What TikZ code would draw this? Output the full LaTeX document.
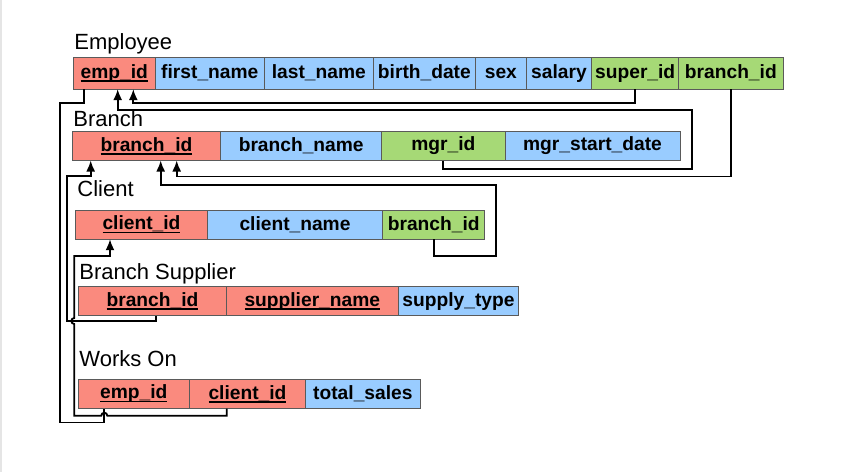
\documentclass[tikz,border=0pt]{standalone}
\usepackage{fontspec}
\setmainfont{Liberation Sans}
\usetikzlibrary{positioning,calc,arrows.meta}
\definecolor{pkred}{RGB}{250,138,126}
\definecolor{attrblue}{RGB}{153,204,255}
\definecolor{fkgreen}{RGB}{166,217,118}
\definecolor{cellline}{RGB}{90,90,90}
\newcommand{\pkey}[1]{\setbox0\hbox{#1}\rlap{\rule[-1.8pt]{\wd0}{0.9pt}}\box0}
\begin{document}
\begin{tikzpicture}[x=0.5pt,y=0.5pt,>={Latex[length=5.5pt,width=4.5pt]},line join=miter,
  field/.style={draw=cellline,line width=0.5pt,inner sep=0pt,outer sep=0pt,minimum height=14.6pt,font=\bfseries\fontsize{9.6}{11}\selectfont},
  pkcell/.style={field,fill=pkred},
  attrcell/.style={field,fill=attrblue},
  fkcell/.style={field,fill=fkgreen},
  title/.style={anchor=base west,inner sep=0pt,font=\fontsize{11}{13}\selectfont},
  link/.style={line width=0.9pt}]
  \useasboundingbox (0,0) rectangle (842,-472);
  \draw [gray!20,line width=1pt] (1,0) -- (1,-472);
%%
  % Table: Employee
  \node[title] (t-emp) at (74,-49.3) {Employee};
\begin{scope}[field/.append style={minimum height=15.9pt}]
  \node[pkcell,minimum width=41pt,anchor=north west] (e-empid) at (73.3,-57.3) {\pkey{emp\_id}};
  \node[attrcell,minimum width=54.5pt,right=0pt of e-empid] (e-first) {first\_name};
  \node[attrcell,minimum width=54.5pt,right=0pt of e-first] (e-last) {last\_name};
  \node[attrcell,minimum width=51.1pt,right=0pt of e-last] (e-birth) {birth\_date};
  \node[attrcell,minimum width=25.4pt,right=0pt of e-birth] (e-sex) {sex};
  \node[attrcell,minimum width=32.7pt,right=0pt of e-sex] (e-salary) {salary};
  \node[fkcell,minimum width=43.5pt,right=0pt of e-salary] (e-super) {super\_id};
  \node[fkcell,minimum width=52.15pt,right=0pt of e-super] (e-branch) {branch\_id};
\end{scope}
  % Table: Branch
  \node[title] (t-branch) at (73,-126.7) {Branch};
  \node[pkcell,minimum width=74.2pt,anchor=north west] (b-branchid) at (72.3,-131.3) {\pkey{branch\_id}};
  \node[attrcell,minimum width=80.5pt,right=0pt of b-branchid] (b-name) {branch\_name};
  \node[fkcell,minimum width=61.65pt,right=0pt of b-name] (b-mgr) {mgr\_id};
  \node[attrcell,minimum width=87.5pt,right=0pt of b-mgr] (b-start) {mgr\_start\_date};
  % Table: Client
  \node[title] (t-client) at (77,-196.7) {Client};
  \node[pkcell,minimum width=65.8pt,anchor=north west] (c-clientid) at (75.7,-210) {\pkey{client\_id}};
  \node[attrcell,minimum width=87.7pt,right=0pt of c-clientid] (c-name) {client\_name};
  \node[fkcell,minimum width=51pt,right=0pt of c-name] (c-branch) {branch\_id};
  % Table: Branch Supplier
  \node[title] (t-supplier) at (79,-279.3) {Branch Supplier};
  \node[pkcell,minimum width=73.8pt,anchor=north west] (s-branchid) at (78.7,-286.7) {\pkey{branch\_id}};
  \node[pkcell,minimum width=86pt,right=0pt of s-branchid] (s-supplier) {\pkey{supplier\_name}};
  \node[attrcell,minimum width=60.2pt,right=0pt of s-supplier] (s-type) {supply\_type};
  % Table: Works On
  \node[title] (t-works) at (79,-366.7) {Works On};
  \node[pkcell,minimum width=55.5pt,anchor=north west] (w-empid) at (78.3,-379.3) {\pkey{emp\_id}};
  \node[pkcell,minimum width=58.2pt,right=0pt of w-empid] (w-clientid) {\pkey{client\_id}};
  \node[attrcell,minimum width=57.15pt,right=0pt of w-clientid] (w-sales) {total\_sales};
%%
  % Edge: super_id -> emp_id
  \draw [link,->] (e-super.south) |- ($(e-empid.south)+(19,-13.7)$) -- ($(e-empid.south)+(19,0)$);
  % Edge: mgr_id -> emp_id
  \draw [link,->] (b-mgr.south) -- ++(0,-8.3) -| (692.3,-110.3) -| ($(e-empid.south)+(3.4,0)$);
  % Edge: Employee.branch_id -> Branch.branch_id
  \draw [link,->] (e-branch.south) |- ($(b-branchid.south)+(30.2,-16)$) -- ($(b-branchid.south)+(30.2,0)$);
  % Edge: Client.branch_id -> Branch.branch_id
  \draw [link,->] (c-branch.south) -- ++(0,-16.4) -| (496,-184.7) -| ($(b-branchid.south)+(14.2,0)$);
  % Edge: Supplier.branch_id -> Branch.branch_id
  \draw [link,->] ($(s-branchid.south)+(3.5,0)$) -- ++(0,-5.3) -| (66.7,-176) -| ($(b-branchid.south)+(-55.8,0)$);
  % Edge: WorksOn.client_id -> Client.client_id
  \draw [link,->] ($(w-clientid.south)+(-20.8,0)$) |- (107.3,-415.7)
    arc[start angle=0,end angle=180,radius=1.5pt] -- (74.3,-415.7) -- (74.3,-324)
    arc[start angle=-90,end angle=-270,radius=1.5pt]
    |- ($(c-clientid.south)+(-31.5,-16.7)$) -- ($(c-clientid.south)+(-31.5,0)$);
  % Edge: emp_id -> WorksOn.emp_id
  \draw [link] ($(e-empid.south)+(-30,0)$) |- (60,-102.7) |- ($(w-empid.south)+(-29.5,-14)$) -- ($(w-empid.south)+(-29.5,0)$);
%
\end{tikzpicture}
\end{document}
